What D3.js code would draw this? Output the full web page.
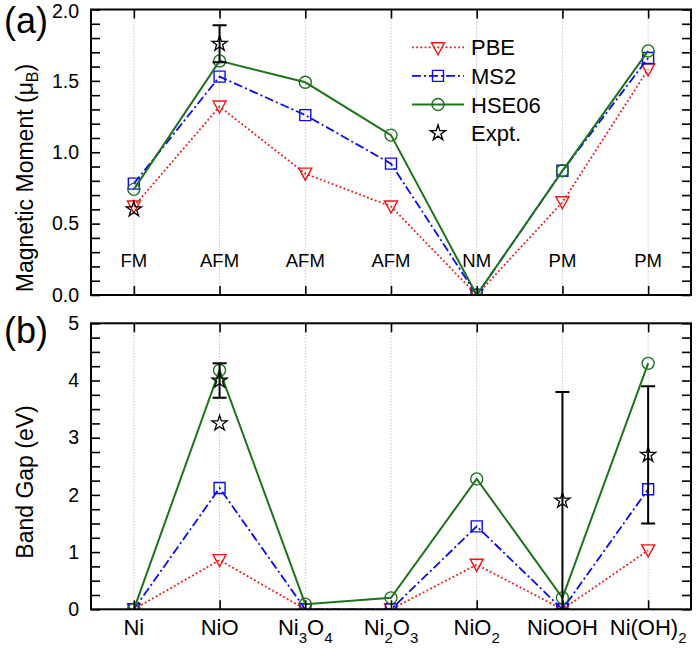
<!DOCTYPE html>
<html><head><meta charset="utf-8">
<script src="https://cdn.jsdelivr.net/npm/d3@7"></script>
<style>body{margin:0;background:#fff} svg{display:block}</style>
</head><body><svg id="c" width="700" height="648"></svg>
<script>
// ---------- data ----------
const categories = ["Ni","NiO","Ni3O4","Ni2O3","NiO2","NiOOH","Ni(OH)2"];
const magneticOrder = ["FM","AFM","AFM","AFM","NM","PM","PM"];
const seriesNames = ["PBE","MS2","HSE06","Expt."];

const momentPBE = [0.62,1.32,0.85,0.62,0.00,0.65,1.58];
const momentMS2 = [0.78,1.53,1.26,0.92,0.00,0.87,1.66];
const momentHSE = [0.74,1.64,1.49,1.12,0.00,0.87,1.71];
const momentExpt    = [0.60,1.76,null,null,null,null,null];
const momentExptErr = [0,   0.13,null,null,null,null,null];

const gapPBE = [0.00,0.86,0.00,0.00,0.78,0.00,1.03];
const gapMS2 = [0.00,2.12,0.00,0.00,1.45,0.00,2.10];
const gapHSE = [0.00,4.18,0.09,0.20,2.28,0.20,4.30];
const gapExpt     = [null,4.00,null,null,null,1.90,2.70];
const gapExptErr  = [null,0.30,null,null,null,1.90,1.20];
const gapExpt2    = [null,3.25,null,null,null,null,null];

const momentTickLabels = [0.0,0.5,1.0,1.5,2.0];
const gapTickLabels = [0,1,2,3,4,5];

// ---------- setup ----------
const font = "'Liberation Sans', Arial, Helvetica, sans-serif";
const svg = d3.select("#c");
const defs = svg.append("defs");
const X0 = 91, X1 = 691;
const x = d3.scalePoint().domain(categories).range([X0, X1]).padding(0.5);

const styles = [
  {color:"#ee1414", dash:"1.8,2.4", width:1.8, sym:"tri"},
  {color:"#0a0aee", dash:"9,3,2,3", width:1.8, sym:"sq"},
  {color:"#1b731b", dash:null, width:2, sym:"circ"},
  {color:"#000", dash:null, width:1.3, sym:"star"}
];
const starPath = d3.symbol(d3.symbolStar, 72)();
function symPath(s){
  if (s==="tri") return "M-6.5,-5.5L6.5,-5.5L0,6.5Z";
  if (s==="sq") return "M-5.5,-5.5h11v11h-11Z";
  if (s==="circ") return d3.symbol(d3.symbolCircle, Math.PI*36)();
  return starPath;
}

function drawPanel(opts){
  const {top, bottom, domain, tickLabels, minorStep, fmt, id, values, expt} = opts;
  const y = d3.scaleLinear().domain(domain).range([bottom, top]);
  const g = svg.append("g");
  defs.append("clipPath").attr("id", id).append("rect")
    .attr("x", X0).attr("y", top).attr("width", X1-X0).attr("height", bottom-top);

  // gridlines
  g.append("g").selectAll("line").data(categories).join("line")
    .attr("x1", d=>x(d)).attr("x2", d=>x(d)).attr("y1", top).attr("y2", bottom)
    .attr("stroke","#aaa").attr("stroke-width",1).attr("stroke-dasharray","1,2");

  const plot = g.append("g").attr("clip-path", `url(#${id})`);
  const line = d3.line().x((d,i)=>x(categories[i])).y(d=>y(d));
  values.forEach((vals, k) => {
    const st = styles[k];
    plot.append("path").attr("d", line(vals)).attr("fill","none")
      .attr("stroke", st.color).attr("stroke-width", st.width)
      .attr("stroke-dasharray", st.dash);
    plot.append("g").selectAll("path").data(vals).join("path")
      .attr("transform", (d,i)=>`translate(${x(categories[i])},${y(d)})`)
      .attr("d", symPath(st.sym)).attr("fill","none")
      .attr("stroke", st.color).attr("stroke-width", 1.4);
  });

  // experimental
  expt.forEach(({vals, errs}) => {
    vals.forEach((v,i) => {
      if (v === null) return;
      const cx = x(categories[i]);
      const e = errs ? errs[i] : null;
      if (e) {
        const y1 = y(v - e), y2 = y(v + e);
        plot.append("line").attr("x1",cx).attr("x2",cx).attr("y1",y1).attr("y2",y2)
          .attr("stroke","#000").attr("stroke-width",2);
        [y1,y2].forEach(yy => plot.append("line").attr("x1",cx-7).attr("x2",cx+7)
          .attr("y1",yy).attr("y2",yy).attr("stroke","#000").attr("stroke-width",2));
      }
      plot.append("path").attr("transform",`translate(${cx},${y(v)})`)
        .attr("d", starPath).attr("fill","none").attr("stroke","#000").attr("stroke-width",1.3);
    });
  });

  // axes
  const minor = d3.range(domain[0], domain[1] + minorStep/2, minorStep);
  const isMajor = v => tickLabels.some(t => Math.abs(t - v) < 1e-6);
  const styleAxis = a => {
    a.attr("font-size", null).attr("font-family", null);
    a.select(".domain").remove();
    a.selectAll(".tick line").attr("stroke","#000").attr("stroke-width",1.6);
    a.selectAll("text").attr("font-family", font).attr("font-size", 19.5).attr("fill","#000");
  };
  const left = g.append("g").attr("transform",`translate(${X0},0)`)
    .call(d3.axisLeft(y).tickValues(minor).tickSize(-9).tickSizeOuter(0).tickPadding(12)
      .tickFormat(v => isMajor(v) ? fmt(v) : "")).call(styleAxis);
  // keep the topmost label inside the picture
  left.selectAll(".tick text").filter(v => Math.abs(v - domain[1]) < 1e-6 && top < 15)
    .attr("dy", "0.42em");
  g.append("g").attr("transform",`translate(${X1},0)`)
    .call(d3.axisRight(y).tickValues(minor).tickSize(-9).tickSizeOuter(0).tickFormat("")).call(styleAxis);
  g.append("g").attr("transform",`translate(0,${top})`)
    .call(d3.axisTop(x).tickSize(-9).tickSizeOuter(0).tickFormat("")).call(styleAxis);
  g.append("g").attr("transform",`translate(0,${bottom})`)
    .call(d3.axisBottom(x).tickSize(-9).tickSizeOuter(0).tickFormat("")).call(styleAxis);

  g.append("rect").attr("x",X0).attr("y",top).attr("width",X1-X0).attr("height",bottom-top)
    .attr("fill","none").attr("stroke","#000").attr("stroke-width",2);
  return {g, y};
}

// ---------- top panel ----------
const P1 = drawPanel({top:9.5, bottom:295, domain:[0,2], tickLabels:momentTickLabels, minorStep:0.1,
  fmt:d3.format(".1f"), id:"clipA",
  values:[momentPBE, momentMS2, momentHSE],
  expt:[{vals:momentExpt, errs:momentExptErr}]});

// magnetic order labels
P1.g.append("g").selectAll("text").data(magneticOrder).join("text")
  .attr("x", (d,i)=>x(categories[i])).attr("y", 267)
  .attr("text-anchor","middle").attr("font-family",font).attr("font-size",18.5).text(d=>d);

// legend
const legend = P1.g.append("g");
seriesNames.forEach((name, k) => {
  const st = styles[k];
  const ry = 47.3 + k*28.6;
  if (k < 3) {
    legend.append("line").attr("x1",412).attr("x2",464).attr("y1",ry).attr("y2",ry)
      .attr("stroke",st.color).attr("stroke-width",st.width).attr("stroke-dasharray",st.dash);
  }
  legend.append("path").attr("transform",`translate(438,${ry + (k===0?1:0)})`)
    .attr("d", symPath(st.sym)).attr("fill","none").attr("stroke",st.color).attr("stroke-width",1.4);
  legend.append("text").attr("x",471).attr("y",ry+8).attr("font-family",font).attr("font-size",22)
    .text(name);
});

// y title top
const t1 = svg.append("text").attr("transform","translate(33,178) rotate(-90)")
  .attr("text-anchor","middle").attr("font-family",font).attr("font-size",23);
t1.append("tspan").text("Magnetic Moment (\u03BC");
t1.append("tspan").attr("font-size",16).attr("dy",5).text("B");
t1.append("tspan").attr("dy",-5).text(")");

svg.append("text").attr("x",4).attr("y",33).attr("font-family",font).attr("font-size",36).text("(a)");

// ---------- bottom panel ----------
const P2 = drawPanel({top:323.3, bottom:609.3, domain:[0,5], tickLabels:gapTickLabels, minorStep:0.25,
  fmt:d3.format("d"), id:"clipB",
  values:[gapPBE, gapMS2, gapHSE],
  expt:[{vals:gapExpt, errs:gapExptErr},{vals:gapExpt2, errs:null}]});

// category labels with subscripts
categories.forEach(c => {
  const t = svg.append("text").attr("x", x(c)).attr("y", 634.5).attr("text-anchor","middle")
    .attr("font-family",font).attr("font-size",22);
  const parts = c.match(/\d+|[^\d]+/g);
  let sub = false;
  parts.forEach(p => {
    const isNum = /^\d+$/.test(p);
    const ts = t.append("tspan").text(p);
    if (isNum && !sub) { ts.attr("font-size",15).attr("dy",8); sub = true; }
    else if (!isNum && sub) { ts.attr("dy",-8); sub = false; }
    else if (isNum) ts.attr("font-size",15);
  });
});

svg.append("text").attr("transform","translate(33,482) rotate(-90)")
  .attr("text-anchor","middle").attr("font-family",font).attr("font-size",23).text("Band Gap (eV)");

svg.append("text").attr("x",4).attr("y",343).attr("font-family",font).attr("font-size",36).text("(b)");
</script>
</body></html>
